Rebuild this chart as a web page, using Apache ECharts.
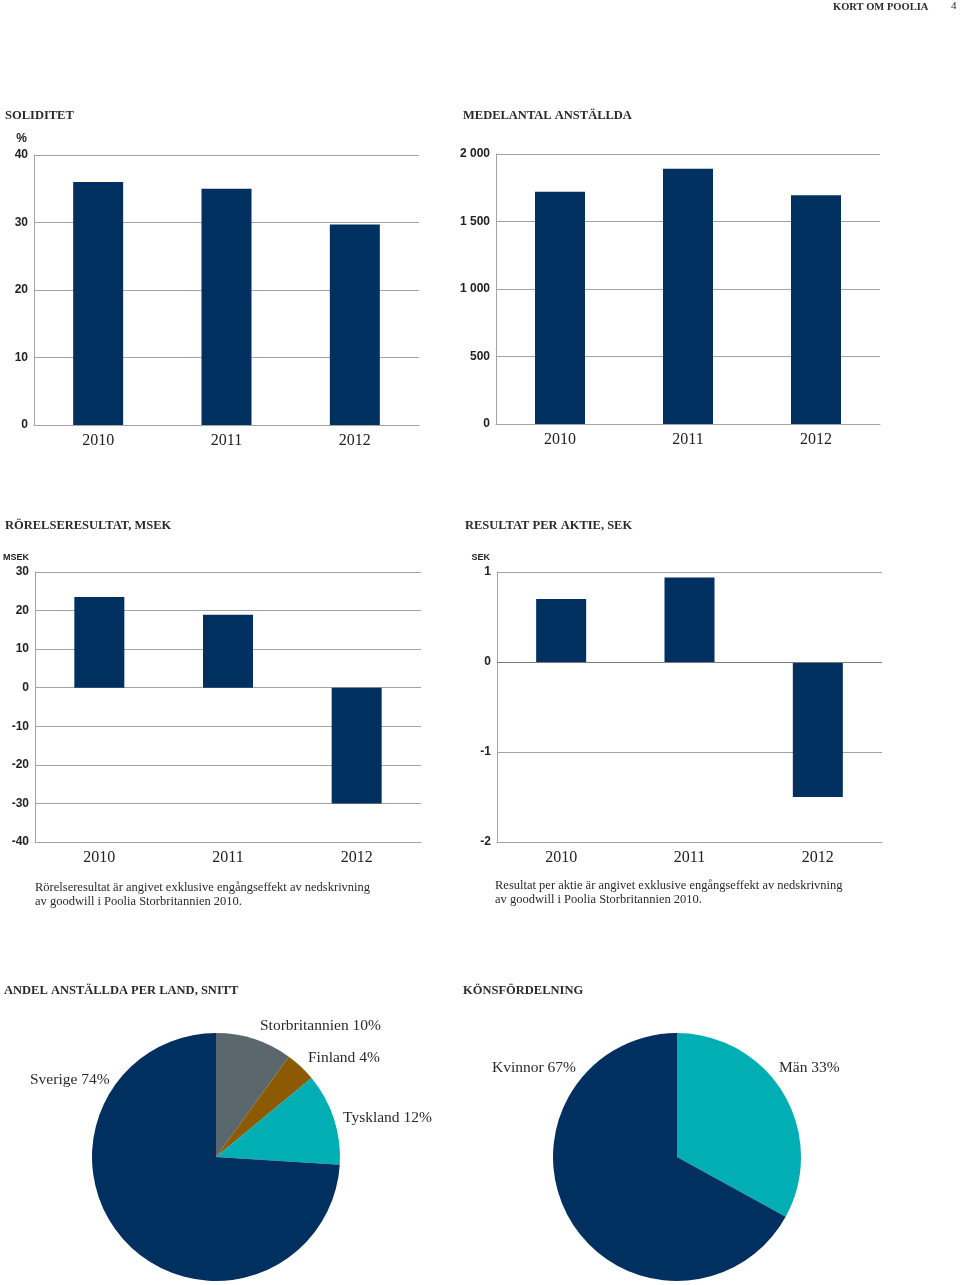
<!DOCTYPE html>
<html>
<head>
<meta charset="utf-8">
<script src="https://cdn.jsdelivr.net/npm/echarts@6/dist/echarts.min.js"></script>
<style>
html,body{margin:0;padding:0;background:#fff;}
#c{width:960px;height:1285px;}
</style>
</head>
<body>
<div id="c"></div>
<script>
// ---- data ----
const years = ['2010', '2011', '2012'];
const soliditet = [36.0, 35.0, 29.7];
const anstallda = [1720, 1890, 1695];
const rorelseresultat = [23.5, 18.9, -30.0];
const resultatPerAktie = [0.70, 0.94, -1.50];
const soliditetTicks = [0, 10, 20, 30, 40];
const anstalldaTicks = [0, 500, 1000, 1500, 2000];
const rorelseTicks = [-40, -30, -20, -10, 0, 10, 20, 30];
const aktieTicks = [-2, -1, 0, 1];
const landNames = ['Storbritannien', 'Finland', 'Tyskland', 'Sverige'];
const landShares = [10, 4, 12, 74];
const konNames = ['Män', 'Kvinnor'];
const konShares = [33, 67];

// ---- styles ----
const NAVY = '#00305f';
const GRID = '#a3a3a3';
const SERIF = '"Liberation Serif", "DejaVu Serif", serif';
const SANS = '"Liberation Sans", Arial, sans-serif';

const chart = echarts.init(document.getElementById('c'), null, {renderer: 'canvas'});

function tickRange(t) {
  return {min: t[0], max: t[t.length - 1], interval: t[1] - t[0]};
}
function fmtThousands(v) {
  return String(v).replace(/\B(?=(\d{3})+(?!\d))/g, ' ');
}
function yAxis(gridIndex, ticks, name, nameSize, namePad, fmt) {
  const r = tickRange(ticks);
  return {
    type: 'value', gridIndex: gridIndex, min: r.min, max: r.max, interval: r.interval,
    name: name, nameLocation: 'end', nameGap: 10,
    nameTextStyle: {fontFamily: SANS, fontWeight: 'bold', fontSize: nameSize, color: '#222', align: 'right', padding: [0, namePad, 0, 0]},
    axisLine: {show: true, lineStyle: {color: GRID, width: 1}},
    axisTick: {show: false},
    axisLabel: {fontFamily: SANS, fontWeight: 'bold', fontSize: 12, color: '#222', margin: 6, formatter: fmt || null},
    splitLine: {show: true, lineStyle: {color: GRID, width: 1}}
  };
}
function xAxis(gridIndex) {
  return {
    type: 'category', gridIndex: gridIndex, data: years,
    axisLine: {show: true, onZero: false, lineStyle: {color: GRID, width: 1}},
    axisTick: {show: false},
    axisLabel: {fontFamily: SERIF, fontSize: 16, color: '#222', margin: 8}
  };
}
function barSeries(idx, data, zeroLine) {
  const s = {
    type: 'bar', xAxisIndex: idx, yAxisIndex: idx, data: data,
    barWidth: 50, itemStyle: {color: NAVY}, silent: true
  };
  if (zeroLine) {
    s.markLine = {
      silent: true, symbol: ['none', 'none'], label: {show: false},
      lineStyle: {color: '#7a7a7a', type: 'solid', width: 1},
      data: [{yAxis: 0}]
    };
  }
  return s;
}
const titleStyle = {fontFamily: SERIF, fontWeight: 'bold', fontSize: 12.5, color: '#2a2a2a'};
const noteStyle = {fontFamily: SERIF, fontWeight: 'normal', fontSize: 12.5, color: '#2a2a2a', lineHeight: 14};

// label positions for the pies (text placement only)
const pieLabelPos = [
  [[260, 1026], [308, 1058], [343, 1118], [30, 1080]],
  [[779, 1068], [492, 1068]]
];

function title(text, left, top, style) {
  return {text: text, left: left, top: top, padding: 0, textStyle: style};
}

const option = {
  animation: false,
  backgroundColor: '#fff',
  title: [
    title('KORT OM POOLIA', 833, 2, {fontFamily: SERIF, fontWeight: 'bold', fontSize: 10.5, color: '#2a2a2a'}),
    title('4', 951, 1, {fontFamily: SERIF, fontWeight: 'normal', fontSize: 11, color: '#2a2a2a'}),
    title('SOLIDITET', 5, 109, titleStyle),
    title('MEDELANTAL ANSTÄLLDA', 463, 109, titleStyle),
    title('RÖRELSERESULTAT, MSEK', 5, 519, titleStyle),
    title('RESULTAT PER AKTIE, SEK', 465, 519, titleStyle),
    title('ANDEL ANSTÄLLDA PER LAND, SNITT', 4, 984, titleStyle),
    title('KÖNSFÖRDELNING', 463, 984, titleStyle),
    title('Rörelseresultat är angivet exklusive engångseffekt av nedskrivning\nav goodwill i Poolia Storbritannien 2010.', 35, 881, noteStyle),
    title('Resultat per aktie är angivet exklusive engångseffekt av nedskrivning\nav goodwill i Poolia Storbritannien 2010.', 495, 879, noteStyle)
  ],
  grid: [
    {left: 34, top: 155, width: 385, height: 270},
    {left: 496, top: 154, width: 384, height: 270},
    {left: 35, top: 572, width: 386, height: 270},
    {left: 497, top: 572, width: 385, height: 270}
  ],
  xAxis: [xAxis(0), xAxis(1), xAxis(2), xAxis(3)],
  yAxis: [
    yAxis(0, soliditetTicks, '%', 12, 7),
    yAxis(1, anstalldaTicks, '', 9, 0, fmtThousands),
    yAxis(2, rorelseTicks, 'MSEK', 9, 6),
    yAxis(3, aktieTicks, 'SEK', 9, 7)
  ],
  series: [
    barSeries(0, soliditet, false),
    barSeries(1, anstallda, false),
    barSeries(2, rorelseresultat, false),
    barSeries(3, resultatPerAktie, true),
    {
      type: 'pie', center: [216, 1157], radius: 124, startAngle: 90, clockwise: true,
      avoidLabelOverlap: false, silent: true,
      data: landNames.map((n, i) => ({name: n, value: landShares[i]})),
      color: ['#5a686d', '#8c5a02', '#00aeb4', NAVY],
      label: {show: true, position: 'outside', formatter: '{b} {c}%', fontFamily: SERIF, fontSize: 15.5, color: '#2a2a2a'},
      labelLine: {show: false},
      labelLayout: function (p) {
        const pos = pieLabelPos[0][p.dataIndex];
        return {x: pos[0], y: pos[1], align: 'left', verticalAlign: 'middle'};
      }
    },
    {
      type: 'pie', center: [677, 1157], radius: 124, startAngle: 90, clockwise: true,
      avoidLabelOverlap: false, silent: true,
      data: konNames.map((n, i) => ({name: n, value: konShares[i]})),
      color: ['#00aeb4', NAVY],
      label: {show: true, position: 'outside', formatter: '{b} {c}%', fontFamily: SERIF, fontSize: 15.5, color: '#2a2a2a'},
      labelLine: {show: false},
      labelLayout: function (p) {
        const pos = pieLabelPos[1][p.dataIndex];
        return {x: pos[0], y: pos[1], align: 'left', verticalAlign: 'middle'};
      }
    }
  ]
};
chart.setOption(option);
</script>
</body>
</html>
